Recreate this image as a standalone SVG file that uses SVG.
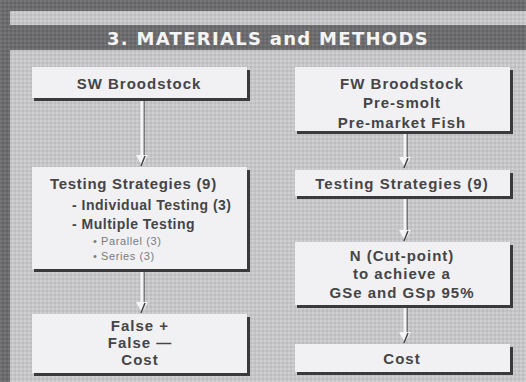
<svg xmlns="http://www.w3.org/2000/svg" width="526" height="382" viewBox="0 0 526 382">
<defs>
<pattern id="lt" width="4" height="4" patternUnits="userSpaceOnUse">
<rect width="4" height="4" fill="#c6c6c8"/>
<rect x="0" y="0" width="2" height="2" fill="#d0d0d2"/>
<rect x="2" y="2" width="2" height="2" fill="#bcbcbe"/>
</pattern>
<pattern id="dk" width="4" height="4" patternUnits="userSpaceOnUse">
<rect width="4" height="4" fill="#6c6c6e"/>
<rect x="0" y="0" width="2" height="2" fill="#767678"/>
<rect x="2" y="2" width="2" height="2" fill="#646466"/>
</pattern>
</defs>
<style>
.box{fill:#f1f1f3;}
.sh{fill:#3a3a3c;}
.t{font-family:"Liberation Sans",Arial,sans-serif;font-weight:bold;font-size:15px;letter-spacing:1px;fill:#454547;text-anchor:middle;}
.tl{font-family:"Liberation Sans",Arial,sans-serif;font-weight:bold;font-size:15px;letter-spacing:0.7px;fill:#454547;}
.ts{font-family:"Liberation Sans",Arial,sans-serif;font-weight:bold;font-size:14px;letter-spacing:0.5px;fill:#454547;}
.s{font-family:"Liberation Sans",Arial,sans-serif;font-size:11px;letter-spacing:0.6px;fill:#7a7a7c;}
.title{font-family:"DejaVu Sans","Liberation Sans",sans-serif;font-weight:bold;font-size:18px;fill:#f4f4f4;text-anchor:middle;letter-spacing:1.3px;}
.stem{stroke:#f4f4f6;stroke-width:3;fill:none;}
.stemsh{stroke:#444446;stroke-width:1.2;fill:none;}
.head{fill:#f4f4f6;stroke:none;}
.headsh{stroke:#444446;stroke-width:1.5;fill:none;}
</style>
<rect width="526" height="382" fill="url(#dk)"/>
<rect x="10" y="11" width="516" height="14" fill="url(#lt)"/>
<rect x="10" y="50" width="516" height="332" fill="url(#lt)"/>
<text class="title" x="268" y="45">3. MATERIALS and METHODS</text>

<g id="connectors">
<g id="c1">
<line class="stemsh" x1="144" y1="101" x2="144" y2="157"/>
<line class="stem" x1="142" y1="101" x2="142" y2="157"/>
<polygon class="head" points="136,155 148,155 142,166"/>
<line class="headsh" x1="145" y1="156" x2="141" y2="166"/>
</g>
<g id="c2">
<line class="stemsh" x1="144" y1="272" x2="144" y2="304"/>
<line class="stem" x1="142" y1="272" x2="142" y2="304"/>
<polygon class="head" points="136,302 148,302 142,313"/>
<line class="headsh" x1="145" y1="303" x2="141" y2="313"/>
</g>
<g id="c3">
<line class="stemsh" x1="407" y1="134" x2="407" y2="159"/>
<line class="stem" x1="405" y1="134" x2="405" y2="159"/>
<polygon class="head" points="399,157 411,157 405,168"/>
<line class="headsh" x1="408" y1="158" x2="404" y2="168"/>
</g>
<g id="c4">
<line class="stemsh" x1="407" y1="199" x2="407" y2="232"/>
<line class="stem" x1="405" y1="199" x2="405" y2="232"/>
<polygon class="head" points="399,230 411,230 405,241"/>
<line class="headsh" x1="408" y1="231" x2="404" y2="241"/>
</g>
<g id="c5">
<line class="stemsh" x1="407" y1="308" x2="407" y2="334"/>
<line class="stem" x1="405" y1="308" x2="405" y2="334"/>
<polygon class="head" points="399,332 411,332 405,343"/>
<line class="headsh" x1="408" y1="333" x2="404" y2="343"/>
</g>
</g>

<g id="sw">
<rect class="sh" x="34" y="98" width="216" height="3"/>
<rect class="sh" x="247" y="70" width="3" height="31"/>
<rect class="box" x="32" y="67" width="215" height="31"/>
<text class="t" x="139" y="89">SW Broodstock</text>
</g>

<g id="ts1">
<rect class="sh" x="34" y="269" width="216" height="3"/>
<rect class="sh" x="247" y="170" width="3" height="102"/>
<rect class="box" x="32" y="167" width="215" height="102"/>
<text class="tl" x="50" y="189">Testing Strategies (9)</text>
<text class="ts" x="72" y="210">- Individual Testing (3)</text>
<text class="ts" x="72" y="229">- Multiple Testing</text>
<text class="s" x="93" y="245">• Parallel (3)</text>
<text class="s" x="93" y="260">• Series (3)</text>
</g>

<g id="fp">
<rect class="sh" x="34" y="373" width="216" height="3"/>
<rect class="sh" x="247" y="317" width="3" height="59"/>
<rect class="box" x="32" y="314" width="215" height="59"/>
<text class="t" x="140" y="331">False +</text>
<text class="t" x="140" y="348">False —</text>
<text class="t" x="140" y="365">Cost</text>
</g>

<g id="fw">
<rect class="sh" x="297" y="131" width="216" height="3"/>
<rect class="sh" x="510" y="70" width="3" height="64"/>
<rect class="box" x="295" y="67" width="215" height="64"/>
<text class="t" x="402" y="89">FW Broodstock</text>
<text class="t" x="402" y="108">Pre-smolt</text>
<text class="t" x="402" y="128">Pre-market Fish</text>
</g>

<g id="ts2">
<rect class="sh" x="297" y="196" width="216" height="3"/>
<rect class="sh" x="510" y="173" width="3" height="26"/>
<rect class="box" x="295" y="170" width="215" height="26"/>
<text class="t" x="402" y="189">Testing Strategies (9)</text>
</g>

<g id="n">
<rect class="sh" x="297" y="305" width="216" height="3"/>
<rect class="sh" x="510" y="245" width="3" height="63"/>
<rect class="box" x="295" y="242" width="215" height="63"/>
<text class="t" x="402" y="261">N (Cut-point)</text>
<text class="t" x="402" y="279">to achieve a</text>
<text class="t" x="402" y="298">GSe and GSp 95%</text>
</g>

<g id="cost">
<rect class="sh" x="297" y="372" width="216" height="3"/>
<rect class="sh" x="510" y="347" width="3" height="28"/>
<rect class="box" x="295" y="344" width="215" height="28"/>
<text class="t" x="402" y="364">Cost</text>
</g>
</svg>
